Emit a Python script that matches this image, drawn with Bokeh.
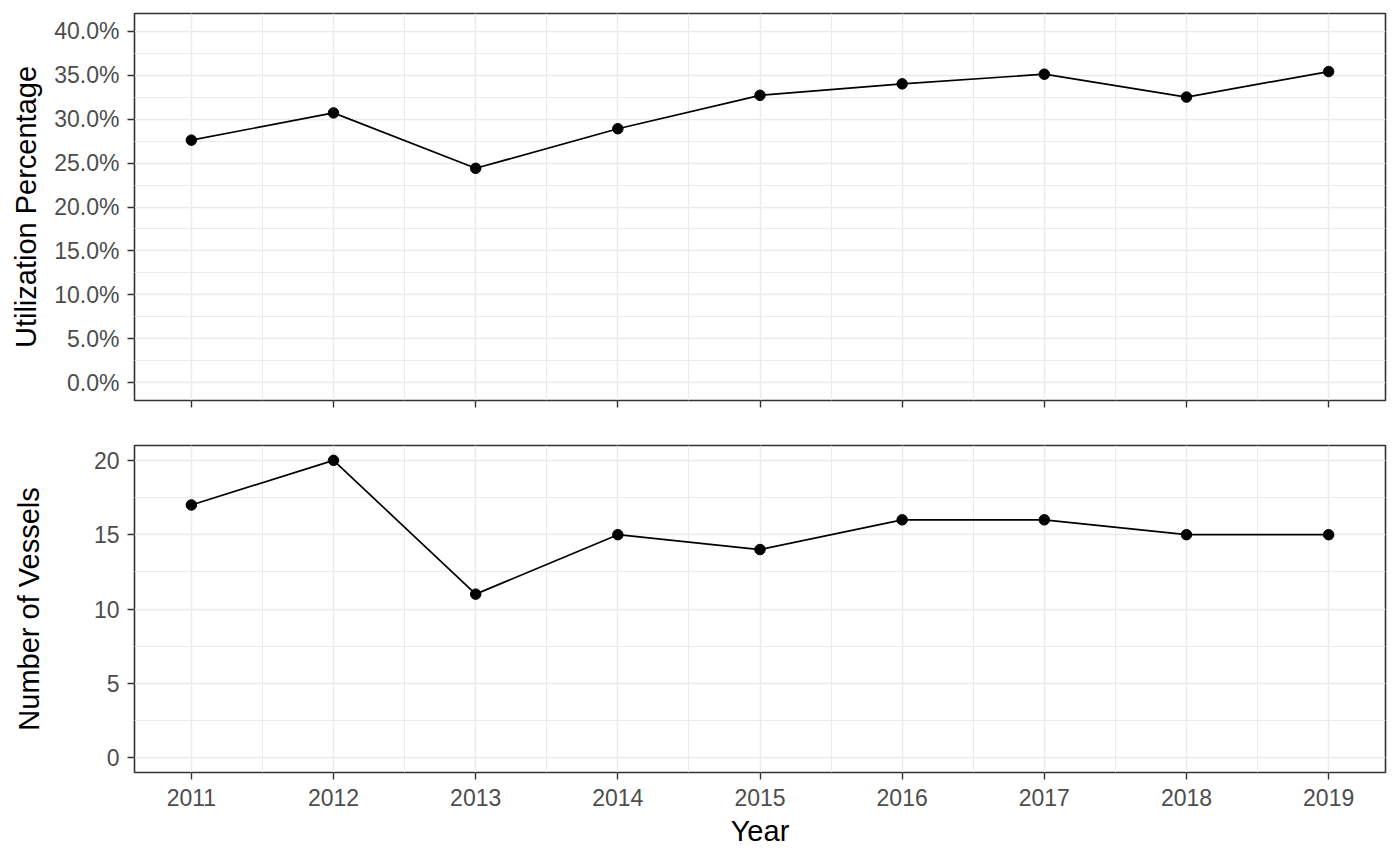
from bokeh.plotting import figure
from bokeh.layouts import column
from bokeh.models import Range1d, FixedTicker, NumeralTickFormatter, CustomLabelingPolicy
from bokeh.embed import file_html
from bokeh.resources import INLINE

years = [2011, 2012, 2013, 2014, 2015, 2016, 2017, 2018, 2019]
utilization = [0.276, 0.307, 0.244, 0.289, 0.327, 0.340, 0.351, 0.325, 0.354]
vessels = [17, 20, 11, 15, 14, 16, 16, 15, 15]

util_ticks = [0.0, 0.05, 0.10, 0.15, 0.20, 0.25, 0.30, 0.35, 0.40]
util_minor = [0.025, 0.075, 0.125, 0.175, 0.225, 0.275, 0.325, 0.375]
vessel_ticks = [0, 5, 10, 15, 20]
vessel_minor = [2.5, 7.5, 12.5, 17.5]
year_minor = [2011.5, 2012.5, 2013.5, 2014.5, 2015.5, 2016.5, 2017.5, 2018.5]

FONT = "Liberation Sans"
W = 1396


def style(p, yticks, yminor):
    p.outline_line_color = "#333333"
    p.outline_line_width = 1.6
    p.background_fill_color = "white"
    p.border_fill_color = "white"
    for ax in (p.xaxis[0], p.yaxis[0]):
        ax.axis_line_color = None
        ax.major_tick_line_color = "#333333"
        ax.major_tick_line_width = 1.4
        ax.major_tick_in = 0
        ax.major_tick_out = 7
        ax.minor_tick_line_color = None
        ax.major_label_text_font = FONT
        ax.major_label_text_font_size = "23px"
        ax.major_label_text_color = "#4D4D4D"
        ax.axis_label_text_font = FONT
        ax.axis_label_text_font_size = "29px"
        ax.axis_label_text_font_style = "normal"
        ax.axis_label_text_color = "black"
    p.xaxis[0].ticker = FixedTicker(ticks=years, minor_ticks=year_minor)
    p.yaxis[0].ticker = FixedTicker(ticks=yticks, minor_ticks=yminor)
    for g in (p.xgrid[0], p.ygrid[0]):
        g.grid_line_color = "#EBEBEB"
        g.grid_line_width = 1.4
        g.minor_grid_line_color = "#EBEBEB"
        g.minor_grid_line_width = 1.0


p1 = figure(width=W, height=427, output_backend="svg", toolbar_location=None,
            x_range=Range1d(2010.6, 2019.4), y_range=Range1d(-0.02, 0.42),
            min_border_left=134, min_border_right=11, min_border_top=13,
            min_border_bottom=18)
style(p1, util_ticks, util_minor)
p1.yaxis[0].formatter = NumeralTickFormatter(format="0.0%")
p1.yaxis[0].axis_label = "Utilization Percentage"
p1.yaxis[0].major_label_standoff = 8
p1.yaxis[0].axis_label_standoff = 9
# top panel shows only tick marks on its x axis, no labels
p1.xaxis[0].major_label_policy = CustomLabelingPolicy(
    code="for (const i of Array.from(indices)) { indices.unset(i) } return indices")
p1.xaxis[0].major_label_standoff = 0
p1.line(years, utilization, line_color="black", line_width=1.7)
p1.scatter(years, utilization, size=10.5, fill_color="black", line_color="black")

p2 = figure(width=W, height=431, output_backend="svg", toolbar_location=None,
            x_range=p1.x_range, y_range=Range1d(-1, 21),
            min_border_left=134, min_border_right=11, min_border_top=18,
            min_border_bottom=86)
style(p2, vessel_ticks, vessel_minor)
p2.yaxis[0].axis_label = "Number of Vessels"
p2.yaxis[0].major_label_standoff = 8
p2.yaxis[0].axis_label_standoff = 46
p2.xaxis[0].axis_label = "Year"
p2.xaxis[0].major_label_standoff = 9
p2.xaxis[0].axis_label_standoff = 6
p2.line(years, vessels, line_color="black", line_width=1.7)
p2.scatter(years, vessels, size=10.5, fill_color="black", line_color="black")

layout = column(p1, p2, spacing=0)
open("out.html", "w").write(file_html(layout, INLINE))
